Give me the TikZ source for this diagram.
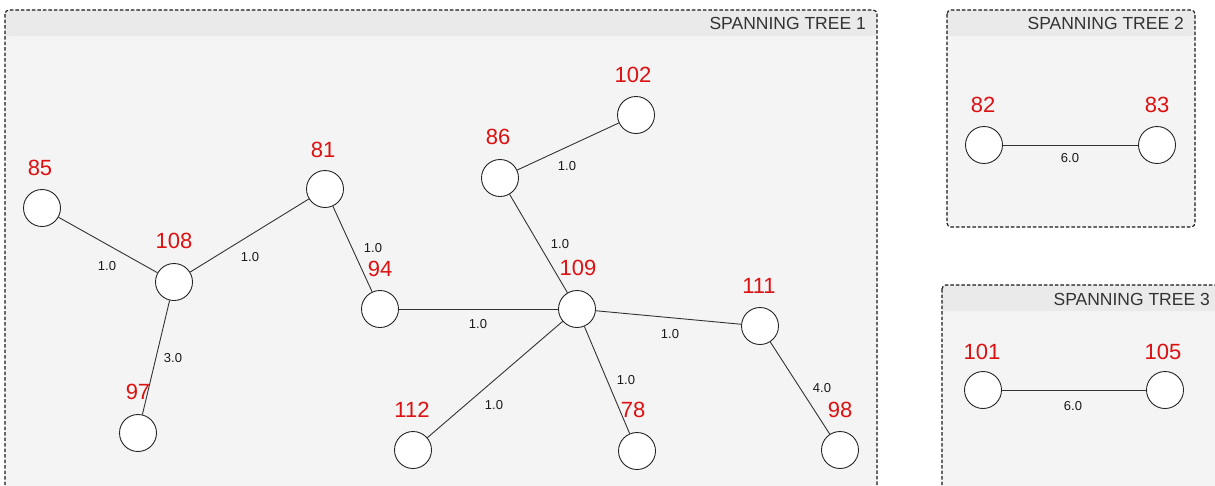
\documentclass[tikz,border=0pt]{standalone}
\usepackage{fontspec}
\setmainfont{Liberation Sans}
\definecolor{boxbody}{HTML}{F4F4F4}
\definecolor{boxhead}{HTML}{EAEAEA}
\definecolor{boxline}{HTML}{1A1A1A}
\definecolor{idred}{HTML}{DD1111}
\definecolor{edgecol}{HTML}{333333}
\begin{document}
\begin{tikzpicture}[x=1pt,y=-1pt,
  panel/.style={draw=boxline,dash pattern=on 3.5pt off 2pt,line width=1.15pt,rounded corners=4pt},
  vtx/.style={circle,draw=black!85,fill=white,minimum size=37pt,inner sep=0pt,line width=0.9pt},
  idlbl/.style={text=idred,font=\fontsize{22}{24}\selectfont,inner sep=0pt},
  wlbl/.style={text=black!90,font=\fontsize{13}{15}\selectfont,inner sep=0pt},
  title/.style={text=black!80,font=\fontsize{17.5}{19}\selectfont,inner sep=0pt,anchor=east},
  edge/.style={draw=edgecol,line width=0.9pt}]
\clip (0,0) rectangle (1215,485);
\fill[white] (0,0) rectangle (1215,485);
% panels
\begin{scope}
  \fill[boxbody,rounded corners=4pt] (5,10) rectangle (877,500);
  \fill[boxhead,rounded corners=4pt] (5,10) rectangle (877,36);
  \fill[boxhead] (5,20) rectangle (877,36);
  \draw[panel] (5,10) rectangle (877,500);
  \node[title] (t1) at (866,23) {SPANNING TREE 1};
\end{scope}
\begin{scope}
  \fill[boxbody,rounded corners=4pt] (947,10) rectangle (1195,227);
  \fill[boxhead,rounded corners=4pt] (947,10) rectangle (1195,36);
  \fill[boxhead] (947,20) rectangle (1195,36);
  \draw[panel] (947,10) rectangle (1195,227);
  \node[title] (t2) at (1184,23) {SPANNING TREE 2};
\end{scope}
\begin{scope}
  \fill[boxbody,rounded corners=4pt] (942,285) rectangle (1230,500);
  \fill[boxhead,rounded corners=4pt] (942,285) rectangle (1230,311);
  \fill[boxhead] (942,295) rectangle (1230,311);
  \draw[panel] (942,285) rectangle (1230,500);
  \node[title] (t3) at (1210,299) {SPANNING TREE 3};
\end{scope}
% vertices
\node[vtx] (n85)  at (42,208) {};
\node[vtx] (n108) at (174,282) {};
\node[vtx] (n81)  at (325,189) {};
\node[vtx] (n94)  at (380,309) {};
\node[vtx] (n86)  at (500,178) {};
\node[vtx] (n102) at (636,115) {};
\node[vtx] (n109) at (577,309) {};
\node[vtx] (n111) at (760,326) {};
\node[vtx] (n97)  at (138,433) {};
\node[vtx] (n112) at (413,450) {};
\node[vtx] (n78)  at (637,451) {};
\node[vtx] (n98)  at (840,450) {};
\node[vtx] (n82)  at (984,145) {};
\node[vtx] (n83)  at (1157,145) {};
\node[vtx] (n101) at (983,390) {};
\node[vtx] (n105) at (1165,390) {};
% edges
\path[edge] (n85) -- (n108);
\path[edge] (n108) -- (n81);
\path[edge] (n81) -- (n94);
\path[edge] (n108) -- (n97);
\path[edge] (n94) -- (n109);
\path[edge] (n86) -- (n109);
\path[edge] (n86) -- (n102);
\path[edge] (n109) -- (n111);
\path[edge] (n109) -- (n112);
\path[edge] (n109) -- (n78);
\path[edge] (n111) -- (n98);
\path[edge] (n82) -- (n83);
\path[edge] (n101) -- (n105);
% id labels
\node[idlbl] (l85)  at (40,168) {85};
\node[idlbl] (l108) at (174,241) {108};
\node[idlbl] (l81)  at (323,150) {81};
\node[idlbl] (l94)  at (380,269) {94};
\node[idlbl] (l86)  at (498,137) {86};
\node[idlbl] (l102) at (633,75) {102};
\node[idlbl] (l109) at (578,268) {109};
\node[idlbl] (l111) at (759,286) {111};
\node[idlbl] (l97)  at (138,392) {97};
\node[idlbl] (l112) at (412,410) {112};
\node[idlbl] (l78)  at (633,410) {78};
\node[idlbl] (l98)  at (840,410) {98};
\node[idlbl] (l82)  at (983,105) {82};
\node[idlbl] (l83)  at (1157,105) {83};
\node[idlbl] (l101) at (982,352) {101};
\node[idlbl] (l105) at (1163,352) {105};
% weight labels
\node[wlbl] (w1)  at (107,266) {1.0};
\node[wlbl] (w2)  at (250,257) {1.0};
\node[wlbl] (w3)  at (373,248) {1.0};
\node[wlbl] (w4)  at (173,358) {3.0};
\node[wlbl] (w5)  at (478,324) {1.0};
\node[wlbl] (w6)  at (560,244) {1.0};
\node[wlbl] (w7)  at (567,166) {1.0};
\node[wlbl] (w8)  at (670,334) {1.0};
\node[wlbl] (w9)  at (494,405) {1.0};
\node[wlbl] (w10) at (626,380) {1.0};
\node[wlbl] (w11) at (822,388) {4.0};
\node[wlbl] (w12) at (1070,158) {6.0};
\node[wlbl] (w13) at (1073,406) {6.0};
\end{tikzpicture}
\end{document}
